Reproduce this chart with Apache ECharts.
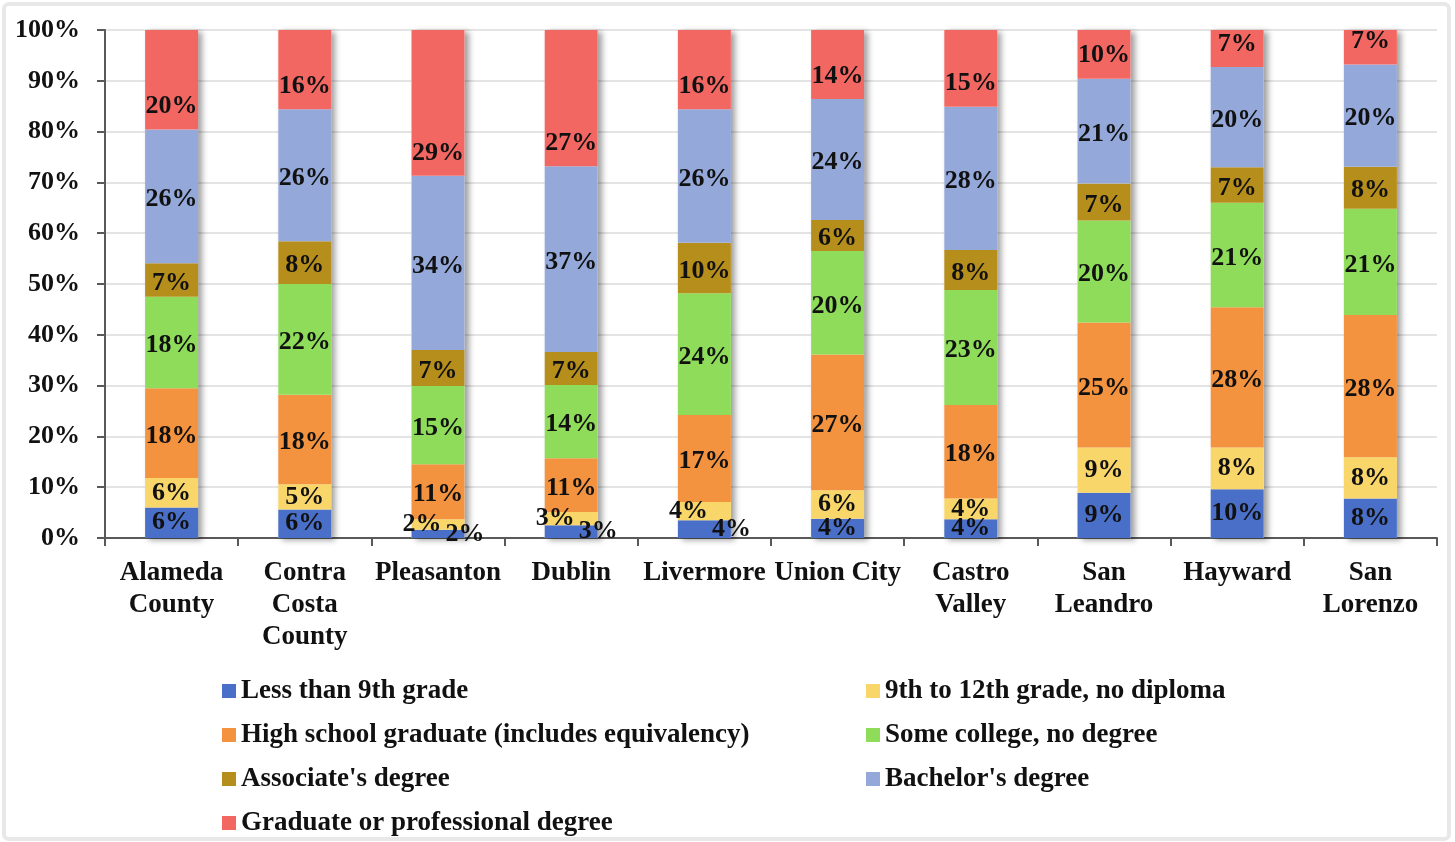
<!DOCTYPE html>
<html>
<head>
<meta charset="utf-8">
<script src="https://cdn.jsdelivr.net/npm/echarts@6/dist/echarts.min.js"></script>
<style>
html,body{margin:0;padding:0;background:#fff;}
#chart{width:1455px;height:842px;}
</style>
</head>
<body>
<div id="chart"></div>
<script>
const categories = ['Alameda\nCounty','Contra\nCosta\nCounty','Pleasanton','Dublin','Livermore','Union City','Castro\nValley','San\nLeandro','Hayward','San\nLorenzo'];
const seriesNames = ['Less than 9th grade','9th to 12th grade, no diploma','High school graduate (includes equivalency)','Some college, no degree',"Associate's degree","Bachelor's degree",'Graduate or professional degree'];
const lessThan9th   = [6.0, 5.6, 1.6, 2.5, 3.5, 3.8, 3.7, 8.9, 9.6, 7.8];
const grade9to12    = [5.8, 5.0, 2.1, 2.6, 3.6, 5.6, 4.1, 8.9, 8.2, 8.1];
const highSchool    = [17.7, 17.6, 10.8, 10.6, 17.1, 26.7, 18.4, 24.6, 27.6, 28.0];
const someCollege   = [18.0, 21.8, 15.4, 14.4, 24.0, 20.4, 22.6, 20.1, 20.6, 20.9];
const associates    = [6.6, 8.4, 7.1, 6.5, 9.9, 6.1, 7.9, 7.3, 7.0, 8.3];
const bachelors     = [26.3, 26.0, 34.3, 36.6, 26.3, 23.8, 28.2, 20.6, 19.7, 20.1];
const graduate      = [19.6, 15.6, 28.7, 26.8, 15.6, 13.6, 15.1, 9.6, 7.3, 6.8];
const yTicks = [0,10,20,30,40,50,60,70,80,90,100];

const values = [lessThan9th, grade9to12, highSchool, someCollege, associates, bachelors, graduate];
const colors = ['#4a6fc8','#f8d66a','#f3923f','#8fdc5a','#b68e1b','#94a9d9','#f36763'];
const FONT = '"Liberation Serif","Times New Roman",serif';
const totals = categories.map((c,i)=>values.reduce((s,arr)=>s+arr[i],0));

const labelBase = {
  show:true, fontFamily:FONT, fontWeight:'bold', fontSize:26, lineHeight:26, color:'#111',
  offset:[0,3],
  formatter: p => Math.round(p.value) + '%'
};

const series = [{
  name:'shadow', type:'bar', data: totals, barWidth:53, barGap:'-100%', silent:true,
  itemStyle:{color:'#ffffff', shadowColor:'rgba(0,0,0,0.38)', shadowBlur:6, shadowOffsetX:4, shadowOffsetY:2},
  label:{show:false}
}];
values.forEach((arr, si) => {
  const s = {
    name: seriesNames[si], type:'bar', stack:'total', data: arr, barWidth:53, barGap:'-100%',
    itemStyle:{color: colors[si]},
    label: Object.assign({}, labelBase, {position:'inside'})
  };
  if (si === 6) {
    s.label.position = 'insideBottom';
    s.label.distance = 13;
  }
  if (si === 0 || si === 1) {
    s.labelLayout = function(p){
      const small = lessThan9th[p.dataIndex] < 3.65 && grade9to12[p.dataIndex] < 3.65;
      if (!small) return {};
      return si === 0 ? {dx: 27} : {dx: -16};
    };
  }
  series.push(s);
});

const legendText = {fontFamily:FONT, fontWeight:'bold', fontSize:27, lineHeight:28, color:'#111'};
const legendCommon = {orient:'vertical', top:677, padding:0, itemGap:16, icon:'rect', itemWidth:14, itemHeight:14, itemStyle:{borderWidth:0}, selectedMode:false, textStyle:legendText};
const option = {
  animation:false,
  backgroundColor:'#ffffff',
  graphic:[{type:'rect', shape:{x:4,y:4,width:1445,height:835,r:5}, style:{fill:'none', stroke:'#e8e8e8', lineWidth:4}, silent:true}],
  grid:{left:105, right:18, top:30, bottom:304},
  legend:[
    Object.assign({left:222, data:[seriesNames[0], seriesNames[2], seriesNames[4], seriesNames[6]]}, legendCommon),
    Object.assign({left:866, data:[seriesNames[1], seriesNames[3], seriesNames[5]]}, legendCommon)
  ],
  xAxis:{
    type:'category', data:categories,
    axisLine:{lineStyle:{color:'#595959', width:2}},
    axisTick:{show:true, length:8, lineStyle:{color:'#595959', width:2}},
    axisLabel:{interval:0, margin:19, fontFamily:FONT, fontWeight:'bold', fontSize:27, lineHeight:32, color:'#111'}
  },
  yAxis:{
    type:'value', min:yTicks[0], max:yTicks[yTicks.length-1], interval:yTicks[1]-yTicks[0],
    axisLine:{show:true, lineStyle:{color:'#595959', width:2}},
    axisTick:{show:true, length:8, lineStyle:{color:'#595959', width:2}},
    splitLine:{lineStyle:{color:'#e4e4e4', width:2}},
    axisLabel:{margin:25, fontFamily:FONT, fontWeight:'bold', fontSize:26, color:'#111', formatter:'{value}%'}
  },
  series: series
};
const chart = echarts.init(document.getElementById('chart'), null, {renderer:'canvas'});
chart.setOption(option);
</script>
</body>
</html>
